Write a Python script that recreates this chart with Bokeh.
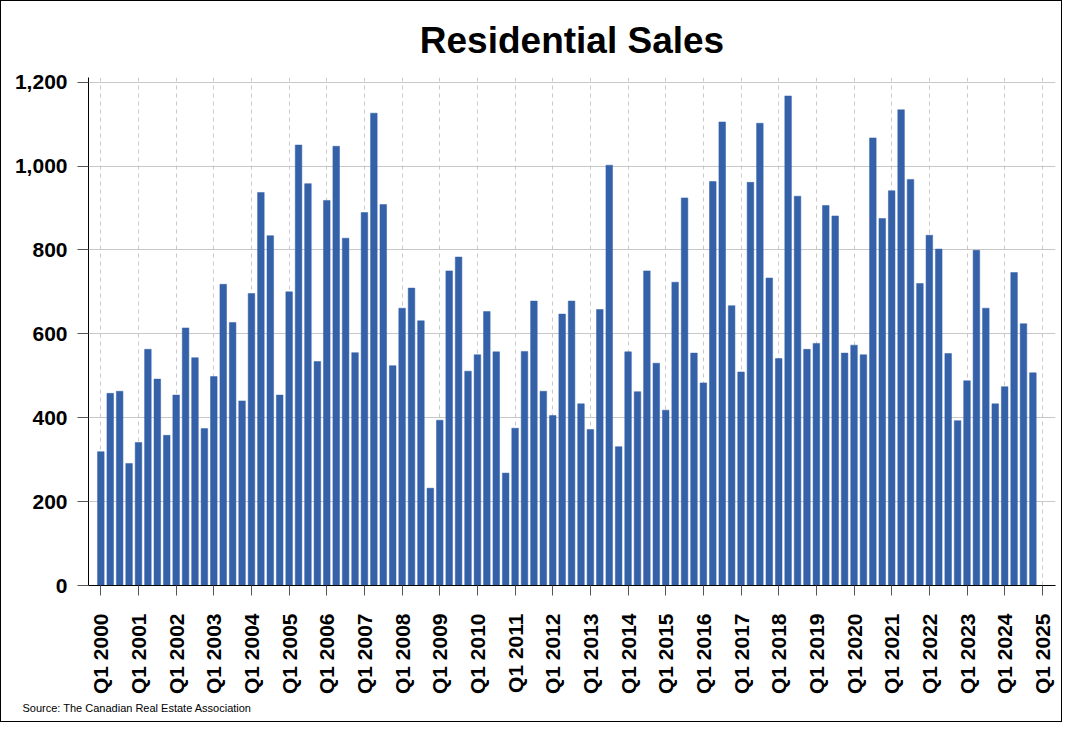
import math
from bokeh.plotting import figure
from bokeh.models import ColumnDataSource, FixedTicker, NumeralTickFormatter, Title, Range1d
from bokeh.embed import file_html
from bokeh.resources import INLINE

years = [str(y) for y in range(2000, 2026)]
quarter_names = ["Q1", "Q2", "Q3", "Q4"]

sales_2000s = [319, 458, 463, 291, 341, 563, 492, 358, 454, 614, 543, 374,
               498, 718, 627, 440, 696, 937, 834, 454, 700, 1050, 958, 534,
               918, 1047, 828, 555, 889, 1126, 908, 524, 661, 709, 631, 232,
               394, 750, 783, 511]
sales_2010s = [550, 653, 557, 268, 375, 558, 678, 463, 405, 647, 678, 433,
               372, 658, 1002, 331, 557, 462, 750, 530, 418, 723, 924, 554,
               483, 963, 1105, 667, 509, 961, 1102, 733, 541, 1167, 928, 563,
               577, 906, 881, 554]
sales_2020s = [573, 550, 1067, 875, 941, 1134, 968, 720, 835, 802, 553, 393,
               488, 799, 661, 433, 474, 746, 624, 507]
sales = sales_2000s + sales_2010s + sales_2020s

labels = [f"{q} {y}" for y in years[:-1] for q in quarter_names]
idx = list(range(len(sales)))
tick_pos = [i * 4 for i in range(len(years))]
tick_labels = {i * 4: f"Q1 {y}" for i, y in enumerate(years)}

src = ColumnDataSource(dict(x=idx, top=sales, label=labels))

FONT = "Liberation Sans"

p = figure(width=1062, height=722, output_backend="svg", toolbar_location=None,
           x_range=Range1d(-1.31, 101.4), y_range=Range1d(0, 1211),
           min_border_left=87, min_border_right=8, min_border_top=76, min_border_bottom=138,
           title="Residential Sales")
p.styles = {"border": "1px solid black"}
p.background_fill_color = "white"
p.border_fill_color = "white"
p.outline_line_color = None

p.title.text_font = FONT
p.title.text_font_size = "37px"
p.title.text_font_style = "bold"
p.title.text_color = "black"
p.title.align = "center"
p.title.standoff = 33

p.vbar(x="x", top="top", width=0.7, source=src, fill_color="#3561A9", line_color="#3561A9", line_width=0.5)

# y axis
ya = p.yaxis[0]
ya.ticker = FixedTicker(ticks=[0, 200, 400, 600, 800, 1000, 1200])
ya.formatter = NumeralTickFormatter(format="0,0")
ya.major_label_text_font = FONT
ya.major_label_text_font_size = "21px"
ya.major_label_text_font_style = "bold"
ya.major_label_text_color = "black"
ya.axis_line_color = "black"
ya.major_tick_line_color = "#555555"
ya.major_tick_out = 11
ya.major_tick_in = 0
ya.minor_tick_line_color = None
ya.major_label_standoff = 10

# x axis
xa = p.xaxis[0]
xa.ticker = FixedTicker(ticks=tick_pos)
xa.major_label_overrides = tick_labels
xa.major_label_orientation = math.pi / 2
xa.major_label_text_font = FONT
xa.major_label_text_font_size = "21px"
xa.major_label_text_font_style = "bold"
xa.major_label_text_color = "black"
xa.axis_line_color = "black"
xa.major_tick_line_color = "#555555"
xa.major_tick_out = 10
xa.major_tick_in = 0
xa.minor_tick_line_color = None
xa.major_label_standoff = 18

p.ygrid.grid_line_color = "#c8c8c8"
p.ygrid.grid_line_width = 1
p.xgrid.grid_line_color = "#c8c8c8"
p.xgrid.grid_line_dash = "4 4"
p.xgrid.grid_line_width = 1

source_note = Title(text="Source: The Canadian Real Estate Association",
                    text_font=FONT, text_font_size="11px", text_font_style="normal",
                    text_color="black", align="left", offset=-66, standoff=4)
p.add_layout(source_note, "below")

open("out.html", "w").write(file_html(p, INLINE))
